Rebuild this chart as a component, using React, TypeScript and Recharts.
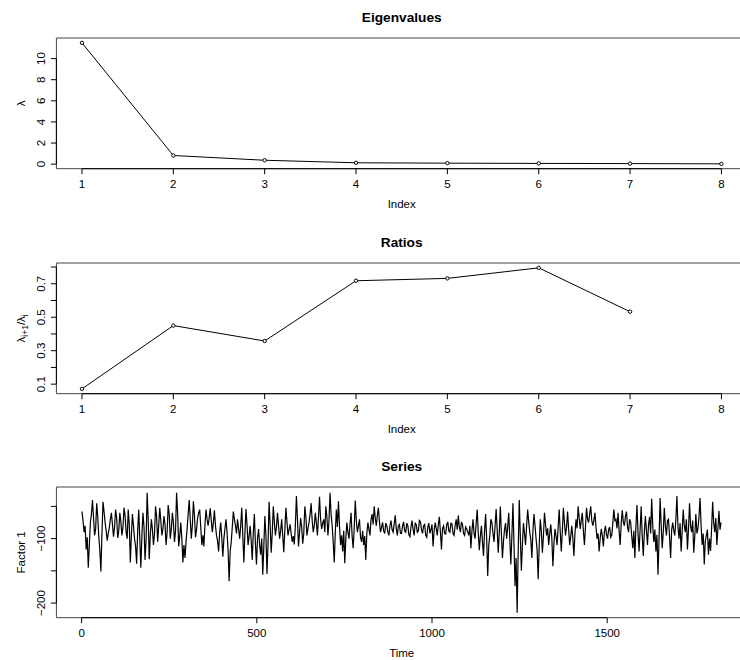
import React from 'react';
import { LineChart, Line, XAxis, YAxis, ReferenceArea, ReferenceLine } from 'recharts';

const FONT = '"Liberation Sans", Arial, Helvetica, sans-serif';

// ---------- Panel 1: eigenvalues ----------
const EIG_INDEX = [1, 2, 3, 4, 5, 6, 7, 8];
const EIGENVALUES = [11.49, 0.82, 0.37, 0.13, 0.095, 0.07, 0.055, 0.03];
const INDEX_TICKS = [1, 2, 3, 4, 5, 6, 7, 8];
const EIG_Y_TICKS = [0, 2, 4, 6, 8, 10];

// ---------- Panel 2: ratios ----------
const RATIOS: (number | null)[] = [0.072, 0.45, 0.358, 0.718, 0.732, 0.795, 0.533, null];
const RATIO_Y_TICKS = [0.1, 0.2, 0.3, 0.4, 0.5, 0.6, 0.7, 0.8];
const RATIO_Y_LABELS = [0.1, 0.3, 0.5, 0.7];

// ---------- Panel 3: series (Factor 1, read every 3 time steps) ----------
const SERIES_START = 1;
const SERIES_STEP = 3;
const FACTOR1 = [
  -58,-72, -90,-80, -117,-98, -145,-110, -75,-62, -40,-68, -95,-85, -45,-66, -97,-118, -151,-92,
  -43,-58, -75,-88, -103,-92, -83,-70, -60,-78, -97,-82, -55,-68, -99,-88, -60,-74, -95,-82,
  -52,-64, -90,-100, -55,-78, -137,-95, -62,-80, -100,-112, -139,-88, -55,-100, -145,-95, -60,-82,
  -133,-102, -29,-70, -132,-95, -70,-85, -110,-92, -50,-66, -105,-80, -52,-72, -95,-85, -65,-78,
  -110,-90, -48,-62, -100,-85, -60,-75, -105,-88, -29,-60, -112,-96, -75,-100, -137,-110, -130,-105,
  -85,-62, -40,-70, -100,-80, -42,-64, -98,-86, -68,-60, -55,-82, -110,-95, -112,-78, -55,-70,
  -80,-68,
  -53,-72, -90,-75, -56,-80, -95,-104, -120,-90, -75,-98, -128,-100, -85,-70, -90,-118, -166,-120,
  -105,-82, -58,-70, -80,-92, -70,-85, -100,-80, -52,-95, -137,-92, -54,-78, -110,-96, -80,-104,
  -133,-90, -62,-108, -140,-100, -85,-110, -125,-100, -156,-112, -65,-96, -155,-108, -43,-78, -122,-92,
  -50,-74, -95,-82, -60,-80, -100,-88, -70,-96, -121,-86, -52,-74, -95,-86, -78,-92, -105,-96,
  -109,-80, -34,-70, -112,-90, -68,-82, -108,-92, -50,-66, -95,-84, -75,-62, -45,-72, -90,-80,
  -60,-76, -95,-66, -35,-70, -85,-76, -70,-90, -50,-66, -95,-72, -29,-62, -80,-105, -137,-90,
  -55,-82,
  -42,-80, -110,-95, -120,-88, -138,-100, -75,-90, -100,-78, -60,-96, -115,-84, -41,-72, -90,-80,
  -70,-98, -105,-88, -110,-96, -133,-92, -75,-86, -95,-70, -62,-78, -50,-68, -80,-64, -52,-74,
  -90,-82, -75,-88, -92,-76, -80,-90, -95,-80, -72,-86, -90,-78, -64,-84, -95,-80, -78,-92,
  -92,-80, -74,-88, -90,-76, -80,-94, -97,-82, -72,-86, -95,-76, -78,-90, -88,-72, -74,-86,
  -92,-80, -78,-95, -98,-82, -76,-92, -86,-78, -112,-88, -75,-84, -95,-78, -66,-90, -117,-84,
  -80,-92, -93,-78, -74,-88, -90,-76, -77,-92, -95,-80, -70,-86, -64,-82, -90,-74, -78,-92,
  -95,-82,
  -85,-90, -95,-80, -115,-88, -70,-92, -100,-76, -55,-90, -118,-96, -80,-105, -127,-88, -62,-100,
  -158,-110, -95,-70, -75,-92, -105,-80, -54,-86, -122,-90, -50,-92, -130,-104, -85,-76, -100,-82,
  -60,-100, -140,-95, -45,-110, -174,-130, -215,-120, -40,-95, -150,-110, -76,-92, -110,-80, -55,-74,
  -90,-102, -130,-88, -62,-80, -100,-118, -163,-110, -70,-88, -122,-96, -60,-78, -95,-84, -110,-92,
  -78,-100, -143,-108, -85,-96, -110,-82, -55,-90, -120,-88, -52,-76, -95,-82, -58,-86, -110,-96,
  -80,-100, -127,-92, -70,-84, -50,-68, -85,-72, -60,-88, -110,-82, -52,-70, -75,-62, -50,-72,
  -80,-72,
  -60,-82, -100,-92, -120,-100, -85,-95, -112,-90, -80,-94, -100,-86, -82,-98, -95,-76, -55,-72,
  -70,-84, -60,-88, -110,-76, -56,-74, -80,-66, -58,-82, -90,-70, -75,-96, -115,-88, -130,-80,
  -48,-92, -120,-85, -50,-96, -127,-90, -65,-88, -110,-78, -66,-92, -38,-80, -105,-86, -120,-94,
  -156,-100, -37,-78, -115,-90, -52,-80, -95,-72, -70,-98, -130,-86, -75,-88, -95,-70, -34,-82,
  -100,-76, -120,-88, -55,-80, -90,-70, -117,-86, -45,-80, -90,-72, -122,-96, -62,-92, -85,-66,
  -37,-80, -110,-92, -140,-104, -95,-86, -125,-100, -119,-84, -43,-76, -90,-68, -110,-84, -57,-86,
  -75,
];
const TIME_TICKS = [0, 500, 1000, 1500];
const FACTOR_Y_TICKS = [-200, -150, -100, -50];
const FACTOR_Y_LABELS = [-200, -100];

const eigData = EIG_INDEX.map((x, i) => ({ x, v: EIGENVALUES[i] }));
const ratioData = EIG_INDEX.map((x, i) => ({ x, v: RATIOS[i] }));
const seriesData = FACTOR1.map((v, i) => ({ x: SERIES_START + i * SERIES_STEP, v }));

// ---------- layout ----------
const CHART_W = 760;
const CHART_H = 224;
const M_TOP = 38;
const Y_AXIS_W = 56.4;
const M_RIGHT = 13;
const X_AXIS_H = 55.3;
const BOX_LEFT = Y_AXIS_W;
const BOX_RIGHT = CHART_W - M_RIGHT;
const BOX_TOP = M_TOP;
const BOX_BOTTOM = CHART_H - X_AXIS_H;
const BOX_CX = (BOX_LEFT + BOX_RIGHT) / 2;
const BOX_CY = (BOX_TOP + BOX_BOTTOM) / 2;

const fmtNum = (v: number) => {
  const s = String(Math.round(v * 1000) / 1000);
  return s.replace('-', '\u2212');
};

const makeXTick = () => (props: any) => {
  const { x, y, payload } = props;
  return (
    <text x={x} y={y} dy="0.71em" textAnchor="middle" fontSize={11.5} fontFamily={FONT} fill="#000">
      {fmtNum(payload.value)}
    </text>
  );
};

const makeYTick = (labels: number[] | null) => (props: any) => {
  const { y, payload } = props;
  const v = payload.value;
  const show = labels == null || labels.some((l) => Math.abs(l - v) < 1e-9);
  if (!show) return <g />;
  return (
    <text
      x={45}
      y={y}
      transform={`rotate(-90, 45, ${y})`}
      textAnchor="middle"
      fontSize={11.5}
      fontFamily={FONT}
      fill="#000"
    >
      {fmtNum(v)}
    </text>
  );
};

type PanelProps = {
  top: number;
  data: any[];
  xDomain: [number, number];
  yDomain: [number, number];
  xTicks: number[];
  yTicks: number[];
  yLabels: number[] | null;
  title: string;
  xLabel: string;
  yLabel: React.ReactNode;
  dots: boolean;
};

function Panel(p: PanelProps) {
  const [x0, x1] = p.xDomain;
  const [y0, y1] = p.yDomain;
  const xa = p.xTicks[0];
  const xb = p.xTicks[p.xTicks.length - 1];
  const ya = p.yTicks[0];
  const yb = p.yTicks[p.yTicks.length - 1];
  return (
    <div style={{ position: 'absolute', left: 0, top: p.top, width: CHART_W, height: CHART_H }}>
      <LineChart
        width={CHART_W}
        height={CHART_H}
        data={p.data}
        margin={{ top: M_TOP, right: M_RIGHT, bottom: 0, left: 0 }}
      >
        <XAxis
          type="number"
          dataKey="x"
          domain={p.xDomain}
          ticks={p.xTicks}
          interval={0}
          allowDataOverflow
          axisLine={false}
          stroke="#000"
          tickLine={{ stroke: '#000' }}
          tickSize={5.5}
          tickMargin={5.5}
          height={X_AXIS_H}
          tick={makeXTick()}
        />
        <YAxis
          type="number"
          domain={p.yDomain}
          ticks={p.yTicks}
          interval={0}
          allowDataOverflow
          axisLine={false}
          stroke="#000"
          tickLine={{ stroke: '#000' }}
          tickSize={5.5}
          width={Y_AXIS_W}
          tick={makeYTick(p.yLabels)}
        />
        <ReferenceArea x1={x0} x2={x1} y1={y0} y2={y1} fill="none" fillOpacity={0} stroke="#444" strokeWidth={1} ifOverflow="visible" />
        <ReferenceLine segment={[{ x: xa, y: y0 }, { x: xb, y: y0 }]} stroke="#000" strokeWidth={1} ifOverflow="visible" />
        <ReferenceLine segment={[{ x: x0, y: ya }, { x: x0, y: yb }]} stroke="#000" strokeWidth={1} ifOverflow="visible" />
        <Line
          type="linear"
          dataKey="v"
          stroke="#000"
          strokeWidth={p.dots ? 1 : 1.2}
          dot={p.dots ? { r: 1.7, stroke: '#000', strokeWidth: 1, fill: '#fff' } : false}
          activeDot={false}
          isAnimationActive={false}
        />
        <text x={BOX_CX} y={BOX_TOP - 16} textAnchor="middle" fontSize={13.7} fontWeight="bold" fontFamily={FONT} fill="#000">
          {p.title}
        </text>
        <text x={BOX_CX} y={BOX_BOTTOM + 39} textAnchor="middle" fontSize={11.5} fontFamily={FONT} fill="#000">
          {p.xLabel}
        </text>
        <text
          x={25}
          y={BOX_CY}
          transform={`rotate(-90, 25, ${BOX_CY})`}
          textAnchor="middle"
          fontSize={11.5}
          fontFamily={FONT}
          fill="#000"
        >
          {p.yLabel}
        </text>
      </LineChart>
    </div>
  );
}

export default function App() {
  return (
    <div
      style={{
        position: 'absolute',
        left: 0,
        top: 0,
        width: 740,
        height: 660,
        overflow: 'hidden',
        background: '#fff',
        fontFamily: FONT,
      }}
    >
      <Panel
        top={0}
        data={eigData}
        xDomain={[0.72, 8.28]}
        yDomain={[-0.43, 11.95]}
        xTicks={INDEX_TICKS}
        yTicks={EIG_Y_TICKS}
        yLabels={null}
        title="Eigenvalues"
        xLabel="Index"
        yLabel="λ"
        dots
      />
      <Panel
        top={224.7}
        data={ratioData}
        xDomain={[0.72, 8.28]}
        yDomain={[0.043, 0.824]}
        xTicks={INDEX_TICKS}
        yTicks={RATIO_Y_TICKS}
        yLabels={RATIO_Y_LABELS}
        title="Ratios"
        xLabel="Index"
        yLabel={
          <>
            <tspan>λ</tspan>
            <tspan fontSize={8.5} dy={3}>i+1</tspan>
            <tspan dy={-3}>/λ</tspan>
            <tspan fontSize={8.5} dy={3}>i</tspan>
          </>
        }
        dots
      />
      <Panel
        top={448.7}
        data={seriesData}
        xDomain={[-72, 1899]}
        yDomain={[-222.7, -19.9]}
        xTicks={TIME_TICKS}
        yTicks={FACTOR_Y_TICKS}
        yLabels={FACTOR_Y_LABELS}
        title="Series"
        xLabel="Time"
        yLabel="Factor 1"
        dots={false}
      />
    </div>
  );
}
